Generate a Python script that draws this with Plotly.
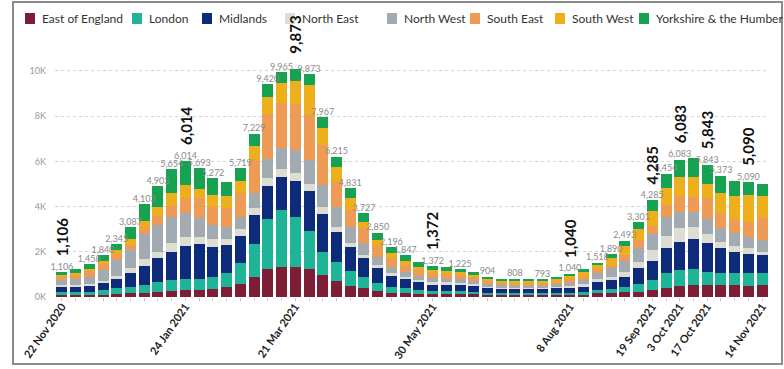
import plotly.graph_objects as go

weeks = [
    "22 Nov 2020", "29 Nov 2020", "6 Dec 2020", "13 Dec 2020", "20 Dec 2020", "27 Dec 2020",
    "3 Jan 2021", "10 Jan 2021", "17 Jan 2021", "24 Jan 2021", "31 Jan 2021", "7 Feb 2021",
    "14 Feb 2021", "21 Feb 2021", "28 Feb 2021", "7 Mar 2021", "14 Mar 2021", "21 Mar 2021",
    "28 Mar 2021", "4 Apr 2021", "11 Apr 2021", "18 Apr 2021", "25 Apr 2021", "2 May 2021",
    "9 May 2021", "16 May 2021", "23 May 2021", "30 May 2021", "6 Jun 2021", "13 Jun 2021",
    "20 Jun 2021", "27 Jun 2021", "4 Jul 2021", "11 Jul 2021", "18 Jul 2021", "25 Jul 2021",
    "1 Aug 2021", "8 Aug 2021", "15 Aug 2021", "22 Aug 2021", "29 Aug 2021", "5 Sep 2021",
    "12 Sep 2021", "19 Sep 2021", "26 Sep 2021", "3 Oct 2021", "10 Oct 2021", "17 Oct 2021",
    "24 Oct 2021", "31 Oct 2021", "7 Nov 2021", "14 Nov 2021",
]

east_of_england = [100, 100, 100, 90, 120, 162, 191, 235, 280, 310, 310, 339, 428, 575, 870, 1224, 1342, 1342,
                   1224, 973, 708, 501, 383, 280, 192, 162, 133, 118, 133, 133, 118, 103, 97, 95, 92, 90,
                   95, 103, 110, 162, 162, 206, 236, 310, 383, 487, 531, 531, 531, 516, 501, 531]
london = [130, 125, 140, 225, 265, 295, 338, 440, 472, 472, 472, 560, 619, 914, 1475, 2212, 2507, 2212,
          1711, 1032, 855, 664, 487, 324, 265, 221, 177, 147, 147, 147, 118, 88, 74, 72, 70, 68,
          75, 88, 100, 147, 177, 251, 324, 442, 664, 708, 693, 590, 546, 560, 546, 516]
midlands = [220, 240, 250, 300, 400, 619, 838, 1030, 1254, 1475, 1563, 1327, 1254, 1209, 1283, 1475, 1475, 1593,
            1770, 1667, 1298, 1032, 841, 664, 472, 398, 339, 295, 280, 280, 265, 221, 221, 218, 215, 210,
            230, 251, 270, 354, 413, 442, 708, 855, 1106, 1254, 1327, 1254, 1077, 929, 855, 811]
north_east = [60, 70, 80, 105, 150, 192, 294, 295, 369, 383, 324, 324, 251, 295, 295, 339, 324, 324,
              295, 324, 251, 177, 147, 147, 147, 118, 103, 88, 88, 74, 74, 59, 44, 45, 46, 47,
              55, 59, 75, 118, 147, 221, 295, 472, 546, 590, 531, 413, 295, 251, 251, 147]
north_west = [230, 255, 330, 495, 710, 811, 1117, 1180, 1180, 1062, 811, 634, 560, 531, 664, 841, 929, 1032,
              1062, 959, 885, 737, 516, 369, 265, 221, 177, 177, 162, 147, 118, 88, 74, 76, 78, 80,
              100, 133, 180, 295, 369, 487, 590, 708, 855, 737, 693, 649, 590, 560, 516, 516]
south_east = [170, 185, 230, 225, 265, 221, 325, 410, 487, 664, 885, 811, 811, 1091, 1504, 2006, 1991, 2035,
              1991, 1770, 1106, 737, 664, 472, 369, 295, 265, 221, 206, 192, 177, 162, 118, 120, 118, 116,
              125, 147, 160, 147, 147, 251, 369, 354, 516, 693, 664, 929, 664, 619, 664, 1032]
south_west = [70, 90, 130, 150, 180, 251, 250, 400, 546, 590, 413, 516, 546, 516, 590, 737, 885, 1032,
              1327, 767, 634, 516, 295, 265, 221, 192, 147, 147, 133, 118, 118, 88, 103, 106, 108, 110,
              125, 147, 200, 177, 324, 398, 472, 678, 737, 826, 855, 619, 885, 1032, 1180, 914]
yorkshire_humber = [126, 165, 198, 250, 255, 536, 750, 913, 1066, 1058, 915, 761, 621, 588, 548, 586, 512, 501,
                    493, 475, 478, 467, 394, 329, 265, 240, 221, 179, 162, 134, 118, 95, 74, 76, 73, 72,
                    95, 112, 145, 118, 151, 237, 307, 466, 647, 788, 870, 858, 785, 664, 577, 516]

region_names = ["East of England", "London", "Midlands", "North East", "North West",
                "South East", "South West", "Yorkshire & the Humber"]
region_values = [east_of_england, london, midlands, north_east, north_west,
                 south_east, south_west, yorkshire_humber]
region_colors = ["#7E1E36", "#1DB497", "#0E2A7A", "#DEDDD2", "#A2AAB2",
                 "#EE9B55", "#EEAF1C", "#16A251"]

# small total labels shown above bars
small_label_weeks = [
    "22 Nov 2020", "6 Dec 2020", "13 Dec 2020", "20 Dec 2020", "27 Dec 2020", "3 Jan 2021",
    "10 Jan 2021", "17 Jan 2021", "24 Jan 2021", "31 Jan 2021", "7 Feb 2021", "21 Feb 2021",
    "28 Feb 2021", "7 Mar 2021", "14 Mar 2021", "28 Mar 2021", "4 Apr 2021", "11 Apr 2021",
    "18 Apr 2021", "25 Apr 2021", "2 May 2021", "9 May 2021", "16 May 2021", "30 May 2021",
    "13 Jun 2021", "27 Jun 2021", "11 Jul 2021", "25 Jul 2021", "8 Aug 2021", "22 Aug 2021",
    "29 Aug 2021", "5 Sep 2021", "12 Sep 2021", "19 Sep 2021", "26 Sep 2021", "3 Oct 2021",
    "17 Oct 2021", "24 Oct 2021", "7 Nov 2021",
]

# bold callout labels
big_label_weeks = ["22 Nov 2020", "24 Jan 2021", "21 Mar 2021", "30 May 2021", "8 Aug 2021",
                   "19 Sep 2021", "3 Oct 2021", "17 Oct 2021", "7 Nov 2021"]
big_label_text = ["1,106", "6,014", "9,873", "1,372", "1,040", "4,285", "6,083", "5,843", "5,090"]

tick_weeks = ["22 Nov 2020", "24 Jan 2021", "21 Mar 2021", "30 May 2021", "8 Aug 2021",
              "19 Sep 2021", "3 Oct 2021", "17 Oct 2021", "14 Nov 2021"]

y_ticks = [0, 2000, 4000, 6000, 8000, 10000]
y_tick_text = ["0K", "2K", "4K", "6K", "8K", "10K"]

totals = [sum(v[i] for v in region_values) for i in range(len(weeks))]
total_by_week = dict(zip(weeks, totals))

# ---- layout geometry (pixels) ----
W, H = 784, 369
ML, MR, MT, MB = 55, 15, 37, 72
PW = W - ML - MR
PH = H - MT - MB


def px_x(p):
    return (p - ML) / PW


def px_y(p):
    return (H - MB - p) / PH


fig = go.Figure()
for name, vals, col in zip(region_names, region_values, region_colors):
    fig.add_trace(go.Bar(x=weeks, y=vals, name=name, marker=dict(color=col, line=dict(width=0)),
                         showlegend=False))

fig.add_trace(go.Scatter(
    x=small_label_weeks, y=[total_by_week[w] for w in small_label_weeks],
    text=[f"{total_by_week[w]:,}" for w in small_label_weeks],
    mode="text", textposition="top center",
    textfont=dict(family="Lato", size=9, color="#8a8a8a"),
    showlegend=False, hoverinfo="skip", cliponaxis=False))

annotations = []
for w, t in zip(big_label_weeks, big_label_text):
    annotations.append(dict(x=w, y=total_by_week[w], xref="x", yref="y", text=t, textangle=-90,
                            showarrow=False, xanchor="center", yanchor="bottom", yshift=14,
                            font=dict(family="Lato", size=15, color="#111111", weight="bold")))

# manual legend
legend_x = [25, 132, 202, 285, 387, 470, 555, 639]
shapes = []
for lx, name, col in zip(legend_x, region_names, region_colors):
    shapes.append(dict(type="rect", xref="paper", yref="paper",
                       x0=px_x(lx), x1=px_x(lx + 10), y0=px_y(24), y1=px_y(13),
                       fillcolor=col, line=dict(width=0)))
    annotations.append(dict(x=px_x(lx + 15), y=px_y(18.5), xref="paper", yref="paper", text=name,
                            showarrow=False, xanchor="left", yanchor="middle",
                            font=dict(family="Lato", size=12, color="#333333")))

# outer frame
shapes.append(dict(type="rect", xref="paper", yref="paper",
                   x0=px_x(13), x1=px_x(782), y0=px_y(364), y1=px_y(2),
                   line=dict(color="#8c8c8c", width=2), fillcolor="rgba(0,0,0,0)", layer="below"))

fig.update_layout(
    width=W, height=H,
    margin=dict(l=ML, r=MR, t=MT, b=MB, autoexpand=False),
    barmode="stack", bargap=0.2,
    plot_bgcolor="white", paper_bgcolor="white",
    shapes=shapes, annotations=annotations,
    showlegend=False,
)
fig.update_xaxes(
    type="category", categoryorder="array", categoryarray=weeks,
    range=[-0.5, len(weeks) - 0.5],
    tickmode="array", tickvals=weeks,
    ticktext=[w if w in tick_weeks else "" for w in weeks],
    tickangle=-55, ticks="outside", ticklen=3, tickcolor="#cccccc",
    tickfont=dict(family="Lato", size=11, color="#222222", weight="bold"),
    ticklabelstandoff=-5,
    showgrid=False, showline=False, zeroline=False, automargin=False,
)
fig.update_yaxes(
    range=[0, 11504], tickmode="array", tickvals=y_ticks, ticktext=y_tick_text,
    tickfont=dict(family="Lato", size=9, color="#999999"),
    showgrid=True, gridcolor="#d4d4d4", griddash="dot", gridwidth=1,
    zeroline=False, showline=False, ticklabelstandoff=8, automargin=False,
)

fig.write_html("out.html")
